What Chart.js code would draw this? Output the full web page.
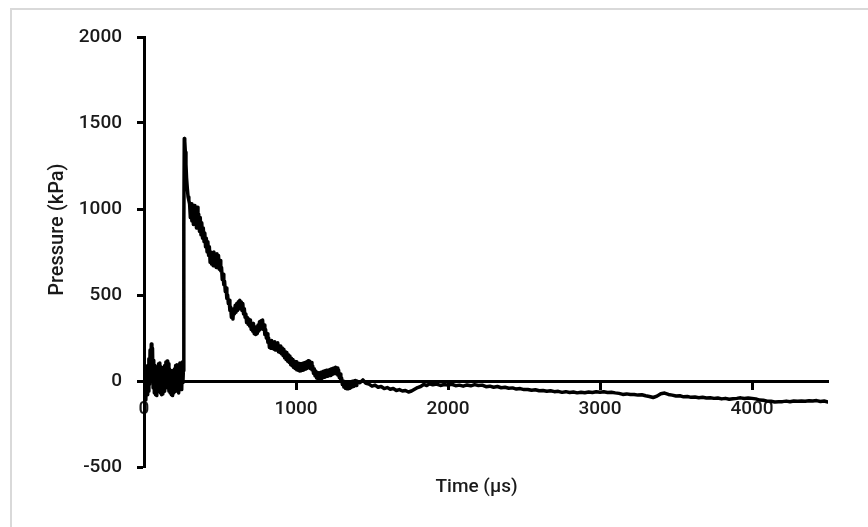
<!DOCTYPE html>
<html><head><meta charset="utf-8">
<script src="https://cdn.jsdelivr.net/npm/chart.js@4"></script>
<style>
html,body{margin:0;padding:0;background:#fff;}
#wrap{position:relative;width:868px;height:527px;overflow:hidden;background:#fff;}
#frame{position:absolute;left:10px;top:8px;width:900px;height:600px;border-left:2px solid #d9d9d9;border-top:2px solid #d9d9d9;}
canvas{position:absolute;left:0;top:0;}
</style></head><body>
<div id="wrap"><div id="frame"></div><canvas id="c" width="868" height="527"></canvas></div>
<script>
const timeUs = [
0,4,8,12,16,20,24,28,32,36,40,44,48,52,56,60,64,68,72,76,80,84,88,92,96,100,
104,108,112,116,120,124,128,132,136,140,144,148,152,156,160,164,168,172,176,180,
184,188,192,196,200,204,208,212,216,220,224,228,232,236,240,244,248,252,256,259,262,265,268,
272,276,280,285,290,295,300,305,310,315,320,325,330,335,340,345,350,355,360,365,370,375,380,
385,390,395,400,405,410,415,420,425,430,435,440,445,450,455,460,465,470,475,480,485,490,495,500,
505,510,515,520,525,530,535,540,545,550,555,560,565,570,575,580,585,590,595,600,605,610,615,620,
625,630,635,640,645,650,655,660,665,670,675,680,685,690,695,
700,705,710,715,720,725,730,735,740,745,750,755,760,765,770,775,780,785,790,795,
800,805,810,815,820,825,830,835,840,845,850,855,860,865,870,875,880,885,890,895,
900,905,910,915,920,925,930,935,940,945,950,955,960,965,970,975,980,985,990,995,
1000,1005,1010,1015,1020,1025,1030,1035,1040,1045,1050,1055,1060,1065,1070,1075,1080,1085,1090,1095,
1100,1105,1110,1115,1120,1125,1130,1135,1140,1145,1150,1155,1160,1165,1170,1175,1180,1185,1190,1195,
1200,1205,1210,1215,1220,1225,1230,1235,1240,1245,1250,1255,1260,1265,1270,1275,1280,1285,1290,1295,
1300,1305,1310,1315,1320,1325,1330,1335,1340,1345,1350,1355,1360,1365,1370,1375,1380,1385,1390,1395,
1400,1420,1440,1460,1480,1500,1520,1540,1560,1580,1600,1620,1640,1660,1680,1700,1720,1740,1760,1780,
1800,1820,1840,1860,1880,1900,
1925,1950,1975,2000,2025,2050,2075,2100,2125,2150,2175,2200,2225,2250,2275,2300,2325,2350,2375,2400,
2425,2450,2475,2500,2525,2550,2575,2600,2625,2650,2675,2700,2725,2750,2775,2800,2825,2850,2875,2900,
2925,2950,2975,3000,3025,3050,3075,3100,3125,3150,3175,3200,3225,3250,3275,3300,3325,3350,3375,3400,
3425,3450,3475,3500,3525,3550,3575,3600,3625,3650,3675,3700,3725,3750,3775,3800,3825,3850,3875,3900,
3925,3950,3975,4000,4025,4050,4075,4100,4125,4150,4175,4200,4225,4250,4275,4300,4325,4350,4375,4400,
4425,4450,4475,4500
];
const pressureKPa = [
30,-95,70,-110,60,-80,90,-60,130,-20,180,40,215,60,190,-40,120,-70,90,-80,60,-85,80,-60,100,-40,
105,-70,80,-80,60,-75,70,-60,90,-40,110,-20,116,-30,100,-60,70,-70,50,-80,
60,-85,40,-70,70,-60,90,-50,95,-40,80,-70,70,105,-20,100,-50,110,-10,60,900,1410,1395,
1330,1260,1180,1120,1070,1050,1030,950,1030,930,1010,910,1020,920,990,890,1010,900,970,870,950,850,920,
830,890,810,860,780,830,750,810,730,780,690,750,680,740,670,750,680,730,660,740,670,730,650,700,
640,660,590,620,560,580,520,540,480,500,450,470,410,430,370,400,360,420,390,440,400,450,410,460,
420,470,430,460,410,450,390,420,370,390,340,370,330,360,320,
355,300,330,290,335,275,310,270,315,275,325,290,345,300,350,310,355,300,325,270,
300,250,275,225,250,195,230,190,235,190,225,185,228,180,220,180,222,170,205,165,
203,158,192,148,185,135,170,125,165,115,152,108,145,95,132,88,125,78,115,72,
112,65,105,62,102,58,100,60,102,62,105,66,108,70,112,74,118,78,115,72,
108,65,88,45,72,30,58,18,50,12,48,12,50,15,53,18,56,22,60,25,
63,28,63,30,66,32,70,36,73,40,76,44,80,42,76,35,64,20,40,0,
18,-20,-2,-35,-10,-42,-12,-45,-14,-45,-12,-42,-10,-36,-2,-32,0,-28,3,-26,
0,-10,6,-14,-18,-30,-24,-36,-32,-44,-38,-48,-44,-55,-50,-58,-55,-64,-58,-48,
-38,-32,-20,-26,-16,-22,
-18,-26,-20,-24,-19,-27,-24,-30,-23,-28,-21,-26,-24,-33,-30,-36,-32,-39,-36,-42,
-40,-47,-44,-50,-49,-54,-51,-57,-55,-60,-57,-62,-60,-66,-62,-67,-64,-69,-65,-68,
-64,-67,-63,-66,-63,-67,-65,-69,-72,-78,-75,-79,-78,-82,-80,-86,-90,-96,-88,-74,
-70,-78,-82,-87,-86,-92,-90,-95,-93,-97,-95,-99,-97,-101,-99,-104,-101,-106,-103,-101,
-98,-102,-99,-101,-104,-111,-112,-117,-118,-122,-121,-120,-117,-121,-116,-118,-116,-118,-115,-116,
-114,-119,-116,-122
];
const xTickValues = [0, 1000, 2000, 3000, 4000];
const yTickValues = [-500, 0, 500, 1000, 1500, 2000];
const xTitle = 'Time (µs)';
const yTitle = 'Pressure (kPa)';

const points = timeUs.map((t, i) => ({x: t, y: pressureKPa[i]}));
const fontFamily = 'Roboto, "Noto Sans", sans-serif';
const textColor = '#1a1a1a';
const tickFont = {family: fontFamily, size: 19, weight: '500'};

new Chart(document.getElementById('c'), {
  type: 'line',
  data: {datasets: [{
    data: points, borderColor: '#000', borderWidth: 3.5, pointRadius: 0,
    tension: 0, fill: false, borderJoinStyle: 'round', borderCapStyle: 'round'
  }]},
  options: {
    responsive: false, animation: false,
    layout: {padding: {left: 10, top: 37, right: 40, bottom: 60}},
    plugins: {legend: {display: false}, tooltip: {enabled: false}},
    scales: {
      x: {
        type: 'linear', min: 0, max: 4500, position: {y: 0},
        afterBuildTicks: s => { s.ticks = xTickValues.map(v => ({value: v})); },
        afterFit: s => { s.height = 118; },
        grid: {drawOnChartArea: false, drawTicks: true, tickLength: 7, tickWidth: 3, tickColor: '#000'},
        border: {display: true, color: '#000', width: 3},
        ticks: {padding: 10, color: textColor, font: tickFont, maxRotation: 0, autoSkip: false,
                callback: v => String(v)},
        title: {display: true, text: xTitle + '    ', color: textColor, font: {family: fontFamily, size: 19, weight: '500'}, padding: 0}
      },
      y: {
        type: 'linear', min: -500, max: 2000,
        afterBuildTicks: s => { s.ticks = yTickValues.map(v => ({value: v})); },
        afterFit: s => { s.width = 134; },
        grid: {drawOnChartArea: false, drawTicks: true, tickLength: 7, tickWidth: 3, tickColor: '#000'},
        border: {display: true, color: '#000', width: 3},
        ticks: {padding: 15, color: textColor, font: tickFont, callback: v => String(v)},
        title: {display: true, text: '         ' + yTitle, color: textColor, font: {family: fontFamily, size: 20, weight: '500'}, padding: {top: 36, bottom: 0}}
      }
    }
  }
});
</script>
</body></html>
